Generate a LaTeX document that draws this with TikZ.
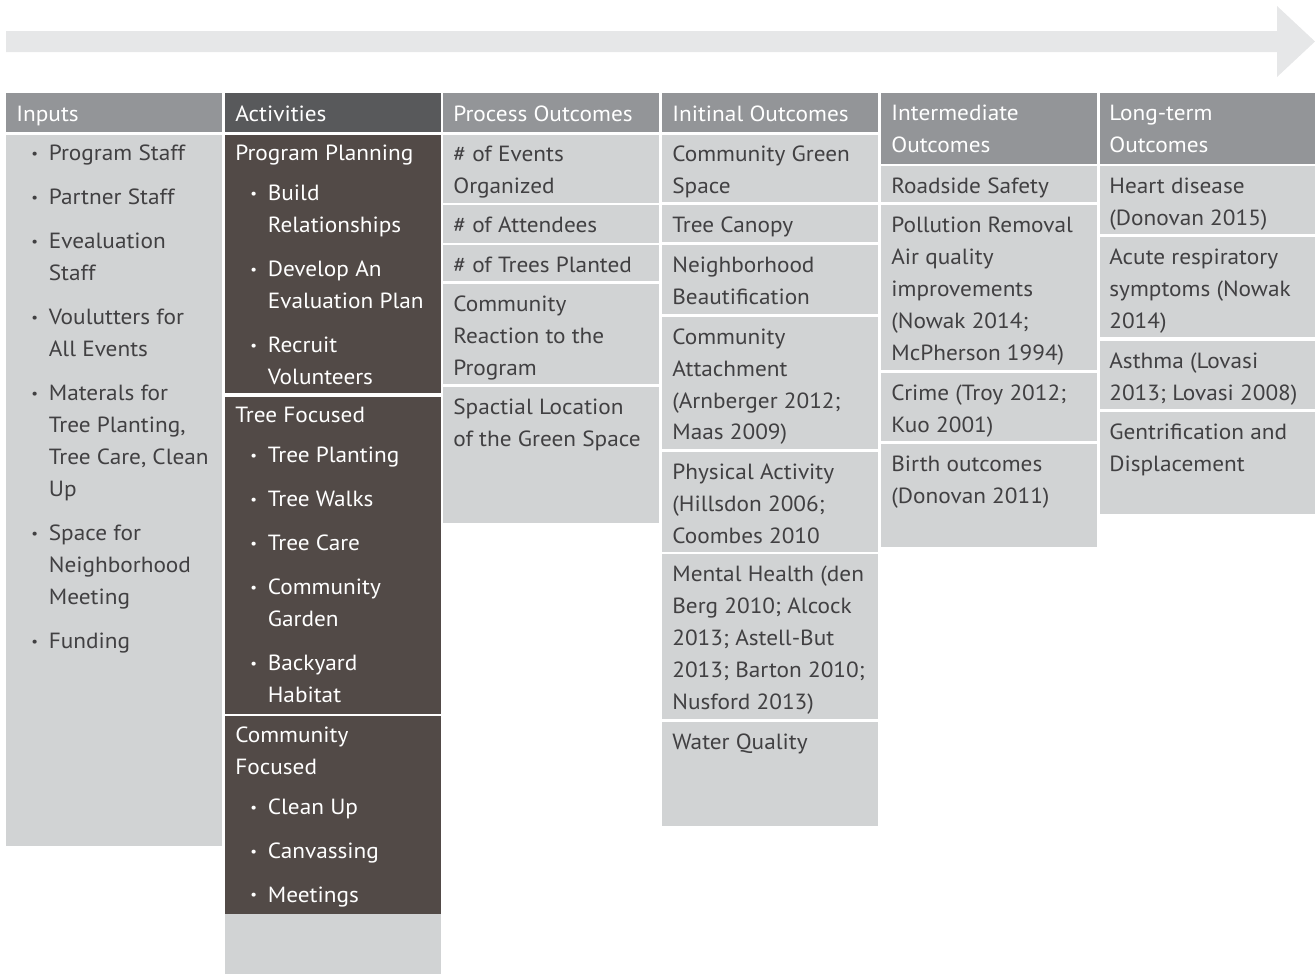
\documentclass[tikz,border=0pt]{standalone}
\usepackage{fontspec}
\setmainfont{PT Sans}[FakeStretch=1.06]
\definecolor{hdrgray}{HTML}{939598}
\definecolor{actgray}{HTML}{58595B}
\definecolor{boxgray}{HTML}{D1D3D4}
\definecolor{actbrown}{HTML}{524A47}
\definecolor{arrowgray}{HTML}{E6E7E8}
\definecolor{txtgray}{HTML}{414042}
\newcommand\bul{\makebox[0.65cm][l]{\hspace{0.3cm}\raisebox{1.3pt}{\fontsize{8}{8}\selectfont\textbullet}}}
\newcommand\ind{\hspace*{0.65cm}}
\newcommand\st{\rule{0pt}{0.4cm}}

\begin{document}
\begin{tikzpicture}[x=0.02cm,y=-0.02cm,
	txt/.style={anchor=north west,inner sep=0pt,align=left,text=txtgray,
		font=\fontsize{12.5}{18.2}\selectfont},
	wtxt/.style={txt,text=white},
	hdr/.style={fill=hdrgray},
	cell/.style={fill=boxgray},
	dark/.style={fill=actbrown}]
	\useasboundingbox (0,0) rectangle (1315,974);
	% time arrow
	\fill[arrowgray] (6,31) -- (1277,31) -- (1277,6) -- (1315,41.5) -- (1277,77) -- (1277,52) -- (6,52) -- cycle;
	% headers
	\fill[hdr] (6,93) rectangle (222,132);
	\fill[actgray] (225,93) rectangle (441,132);
	\fill[hdr] (443,93) rectangle (659,132);
	\fill[hdr] (662,93) rectangle (878,132);
	\fill[hdr] (881,93) rectangle (1097,163.5);
	\fill[hdr] (1100,93) rectangle (1315,163.5);
	\node[wtxt] (inputs) at (16,101) {\st Inputs};
	\node[wtxt] (activities) at (235,101) {\st Activities};
	\node[wtxt] (process) at (453,101) {\st Process Outcomes};
	\node[wtxt] (initial) at (672,101) {\st Initinal Outcomes};
	\node[wtxt] (intermediate) at (891,100) {\st Intermediate\\Outcomes};
	\node[wtxt] (longterm) at (1109,100) {\st Long-term\\Outcomes};
	% inputs
	\fill[cell] (6,134.5) rectangle (222,845.5);
	\node[txt] (inlist) at (16,140.5) {\st\bul Program Staff\\[0.24cm]\bul Partner Staff\\[0.24cm]
		\bul Evealuation\\\ind Staff\\[0.24cm]\bul Voulutters for\\\ind All Events\\[0.24cm]
		\bul Materals for\\\ind Tree Planting,\\\ind Tree Care, Clean\\\ind Up\\[0.24cm]
		\bul Space for\\\ind Neighborhood\\\ind Meeting\\[0.24cm]\bul Funding};
	% activities
	\fill[dark] (225,134.5) rectangle (441,393);
	\fill[dark] (225,396.5) rectangle (441,713.5);
	\fill[dark] (225,716) rectangle (441,913.5);
	\fill[cell] (225,913.5) rectangle (441,974);
	\node[wtxt] (planning) at (235,140.5) {\st Program Planning\\[0.16cm]\bul Build\\\ind Relationships\\[0.24cm]
		\bul Develop An\\\ind Evaluation Plan\\[0.24cm]\bul Recruit\\\ind Volunteers};
	\node[wtxt] (treefoc) at (235,402.5) {\st Tree Focused\\[0.16cm]\bul Tree Planting\\[0.24cm]\bul Tree Walks\\[0.24cm]
		\bul Tree Care\\[0.24cm]\bul Community\\\ind Garden\\[0.24cm]\bul Backyard\\\ind Habitat};
	\node[wtxt] (commfoc) at (235,722) {\st Community\\Focused\\[0.16cm]\bul Clean Up\\[0.24cm]\bul Canvassing\\[0.24cm]\bul Meetings};
	% process outcomes
	\foreach \ya/\yb/\nm/\tx in {134.5/202.5/events/{\# of Events\\Organized},
		205/242.5/attendees/{\# of Attendees},
		245/281/trees/{\# of Trees Planted},
		284/384/reaction/{Community\\Reaction to the\\Program},
		386.7/522.7/location/{Spactial Location\\of the Green Space}}{
		\fill[cell] (443,\ya) rectangle (659,\yb);
		\node[txt] (\nm) at (453,\ya+7) {\st\tx};
	}
	% initial outcomes
	\foreach \ya/\yb/\nm/\tx in {134.5/202.3/green/{Community Green\\Space},
		205/242.3/canopy/{Tree Canopy},
		245/314.3/beauty/{Neighborhood\\Beautification},
		316.7/449/attach/{Community\\Attachment\\(Arnberger 2012;\\Maas 2009)},
		451.7/552.3/physical/{Physical Activity\\(Hillsdon 2006;\\Coombes 2010},
		554.3/719.3/mental/{Mental Health (den\\Berg 2010; Alcock\\2013; Astell-But\\2013; Barton 2010;\\Nusford 2013)},
		721.7/825.7/water/{Water Quality}}{
		\fill[cell] (662,\ya) rectangle (878,\yb);
		\node[txt] (\nm) at (672,\ya+7) {\st\tx};
	}
	% intermediate outcomes
	\foreach \ya/\yb/\nm/\tx in {165.7/202.3/roadside/{Roadside Safety},
		205/370/pollution/{Pollution Removal\\Air quality\\improvements\\(Nowak 2014;\\McPherson 1994)},
		372.7/440.7/crime/{Crime (Troy 2012;\\Kuo 2001)},
		444/546.7/birth/{Birth outcomes\\(Donovan 2011)}}{
		\fill[cell] (881,\ya) rectangle (1097,\yb);
		\node[txt] (\nm) at (891,\ya+7) {\st\tx};
	}
	% long-term outcomes
	\foreach \ya/\yb/\nm/\tx in {165.7/234.3/heart/{Heart disease\\(Donovan 2015)},
		236.7/337.3/acute/{Acute respiratory\\symptoms (Nowak\\2014)},
		340.7/409/asthma/{Asthma (Lovasi\\2013; Lovasi 2008)},
		412.3/514.3/gentri/{Gentrification and\\Displacement}}{
		\fill[cell] (1100,\ya) rectangle (1315,\yb);
		\node[txt] (\nm) at (1109,\ya+7) {\st\tx};
	}
\end{tikzpicture}
\end{document}
